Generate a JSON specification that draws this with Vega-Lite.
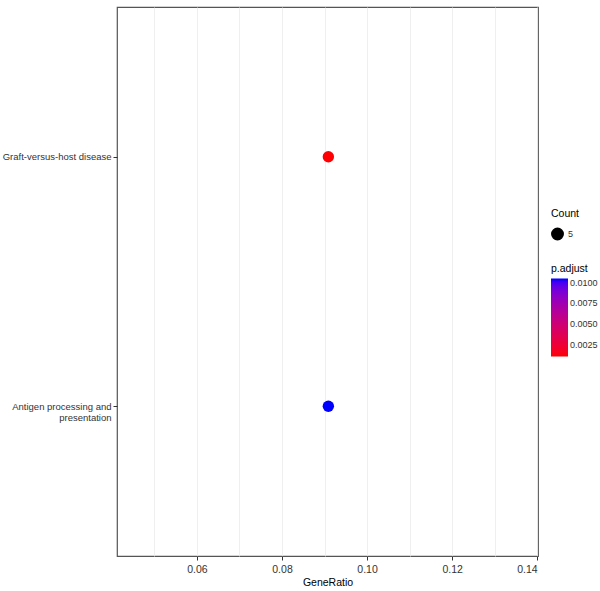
{
  "$schema": "https://vega.github.io/schema/vega-lite/v6.json",
  "autosize": {"type": "none"},
  "padding": {"left": 117, "top": 7, "right": 62, "bottom": 35},
  "width": 421,
  "height": 549,
  "background": "white",
  "data": {
    "values": [
      {"Description": "Graft-versus-host disease", "GeneRatio": 0.0909, "Count": 5, "p.adjust": 0.0011},
      {"Description": "Antigen processing and presentation", "GeneRatio": 0.0909, "Count": 5, "p.adjust": 0.0105}
    ]
  },
  "config": {
    "font": "Liberation Sans",
    "view": {"stroke": "#555555", "strokeWidth": 1.2},
    "axis": {"gridColor": "#EBEBEB", "gridWidth": 0.8, "domain": false, "tickColor": "#333333", "tickSize": 4, "labelColor": "#333333", "titleColor": "#000000", "titleFontWeight": "normal"},
    "legend": {"titleFontWeight": "normal", "titleColor": "#000000", "labelColor": "#333333"}
  },
  "mark": {"type": "circle", "opacity": 1},
  "encoding": {
    "x": {
      "field": "GeneRatio", "type": "quantitative",
      "scale": {"domain": [0.0412, 0.1402], "nice": false, "zero": false},
      "axis": {
        "values": [0.05, 0.06, 0.07, 0.08, 0.09, 0.1, 0.11, 0.12, 0.13, 0.14],
        "labelExpr": "round(datum.value*100) % 2 == 1 ? '' : format(datum.value, '.2f')",
        "tickOpacity": {"condition": {"test": "round(datum.value*100) % 2 == 1", "value": 0}, "value": 1},
        "labelFontSize": 10.5, "titleFontSize": 10.5, "labelPadding": 4, "titlePadding": 3
      },
      "title": "GeneRatio"
    },
    "y": {
      "field": "Description", "type": "nominal",
      "sort": ["Graft-versus-host disease", "Antigen processing and presentation"],
      "scale": {"type": "point", "padding": 0.6},
      "axis": {
        "title": null, "labelFontSize": 9.5, "labelPadding": 2, "labelLimit": 200,
        "labelExpr": "datum.label == 'Antigen processing and presentation' ? ['Antigen processing and', 'presentation'] : datum.label"
      }
    },
    "size": {
      "field": "Count", "type": "quantitative",
      "scale": {"range": [130, 130]},
      "legend": {"orient": "none", "legendX": 434, "legendY": 202, "title": "Count", "titlePadding": 8, "values": [5], "titleFontSize": 10.5, "labelFontSize": 9, "symbolFillColor": "black", "symbolStrokeColor": "black", "symbolType": "circle"}
    },
    "color": {
      "field": "p\\.adjust", "type": "quantitative",
      "scale": {"domain": [0.00105, 0.0105], "range": ["#FF0000", "#0000FF"], "interpolate": "lab", "nice": false, "zero": false},
      "legend": {"orient": "none", "legendX": 434, "legendY": 257, "title": "p.adjust", "titlePadding": 4, "values": [0.0025, 0.005, 0.0075, 0.01], "format": ".4f", "gradientLength": 78, "gradientThickness": 17, "titleFontSize": 10.5, "labelFontSize": 9, "gradientStrokeWidth": 0}
    }
  }
}
